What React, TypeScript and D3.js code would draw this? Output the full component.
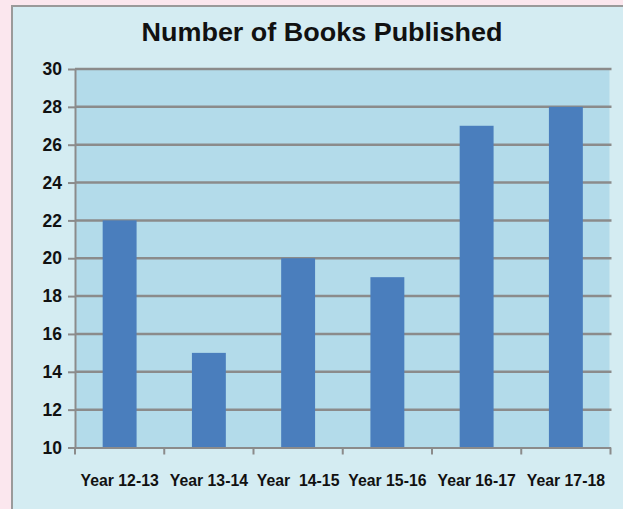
import { useEffect, useRef } from "react";
import * as d3 from "d3";

const categories = ["Year 12-13", "Year 13-14", "Year  14-15", "Year 15-16", "Year 16-17", "Year 17-18"];
const books = [22, 15, 20, 19, 27, 28];
const yTicks = [10, 12, 14, 16, 18, 20, 22, 24, 26, 28, 30];

const width = 623;
const height = 509;

export default function App() {
  const svgRef = useRef<SVGSVGElement>(null);

  useEffect(() => {
    if (!svgRef.current) return;
    const svg = d3.select(svgRef.current);
    svg.selectAll("*").remove();

    const font = "'Liberation Sans', Arial, sans-serif";
    const margin = { top: 69, right: 12.5, bottom: 61.5, left: 75 };
    const innerWidth = width - margin.left - margin.right;
    const innerHeight = height - margin.top - margin.bottom;

    // page + panel frame
    svg.append("rect").attr("width", width).attr("height", height).attr("fill", "#fbe7ee");
    svg.append("rect")
      .attr("x", 12).attr("y", 6)
      .attr("width", width + 20).attr("height", height + 20)
      .attr("fill", "#d4ecf2")
      .attr("stroke", "#9a9a9a")
      .attr("stroke-width", 2);

    svg.append("text")
      .attr("x", 322)
      .attr("y", 41)
      .attr("text-anchor", "middle")
      .attr("font-family", font)
      .attr("font-weight", "bold")
      .attr("font-size", 25)
      .attr("textLength", 361)
      .attr("lengthAdjust", "spacingAndGlyphs")
      .attr("fill", "#111")
      .text("Number of Books Published");

    const g = svg.append("g").attr("transform", `translate(${margin.left},${margin.top})`);

    const xScale = d3.scaleBand().domain(categories).range([0, innerWidth]).padding(0);
    const yScale = d3.scaleLinear().domain([10, 30]).range([innerHeight, 0]);

    // plot background
    g.append("rect")
      .attr("width", innerWidth - 1)
      .attr("height", innerHeight)
      .attr("fill", "#b3dbea");

    // gridlines
    g.selectAll(".grid")
      .data(yTicks.filter(t => t > 10))
      .enter()
      .append("line")
      .attr("x1", 0)
      .attr("x2", innerWidth + 1)
      .attr("y1", d => yScale(d))
      .attr("y2", d => yScale(d))
      .attr("stroke", "#8b8b8b")
      .attr("stroke-width", 2.5);

    // bars
    const barW = xScale.bandwidth() * 0.38;
    g.selectAll(".bar")
      .data(books)
      .enter()
      .append("rect")
      .attr("x", (d, i) => (xScale(categories[i]) || 0) + xScale.bandwidth() / 2 - barW / 2)
      .attr("width", barW)
      .attr("y", d => yScale(d))
      .attr("height", d => innerHeight - yScale(d))
      .attr("fill", "#4a7ebd");

    // Y axis
    const yAxis = g.append("g").call(d3.axisLeft(yScale).tickValues(yTicks).tickSize(7).tickSizeOuter(0));
    yAxis.select(".domain").attr("stroke", "#8b8b8b").attr("stroke-width", 2);
    yAxis.selectAll(".tick line").attr("stroke", "#8b8b8b").attr("stroke-width", 2);
    yAxis.selectAll(".tick text")
      .attr("x", -13)
      .attr("font-family", font)
      .attr("font-weight", "bold")
      .attr("font-size", 17.5)
      .attr("fill", "#111");

    // X axis
    const xAxis = g.append("g")
      .attr("transform", `translate(0,${innerHeight})`)
      .call(d3.axisBottom(xScale).tickSize(0).tickSizeOuter(0));
    xAxis.select(".domain").attr("stroke", "#8b8b8b").attr("stroke-width", 2);
    xAxis.selectAll(".tick text")
      .attr("y", 38.5)
      .attr("dy", 0)
      .attr("transform", "scale(0.93,1)")
      .attr("font-family", font)
      .attr("font-weight", "bold")
      .attr("font-size", 17)
      .attr("fill", "#111")
      .style("white-space", "pre");

    // ticks at band boundaries
    const bounds = d3.range(categories.length + 1).map(i => i * xScale.step());
    xAxis.selectAll(".btick")
      .data(bounds)
      .enter()
      .append("line")
      .attr("x1", d => d)
      .attr("x2", d => d)
      .attr("y1", 0)
      .attr("y2", 7)
      .attr("stroke", "#8b8b8b")
      .attr("stroke-width", 2);
  }, []);

  return (
    <div style={{ position: "fixed", left: 0, top: 0 }}>
      <svg ref={svgRef} width={width} height={height} style={{ display: "block" }}></svg>
    </div>
  );
}
